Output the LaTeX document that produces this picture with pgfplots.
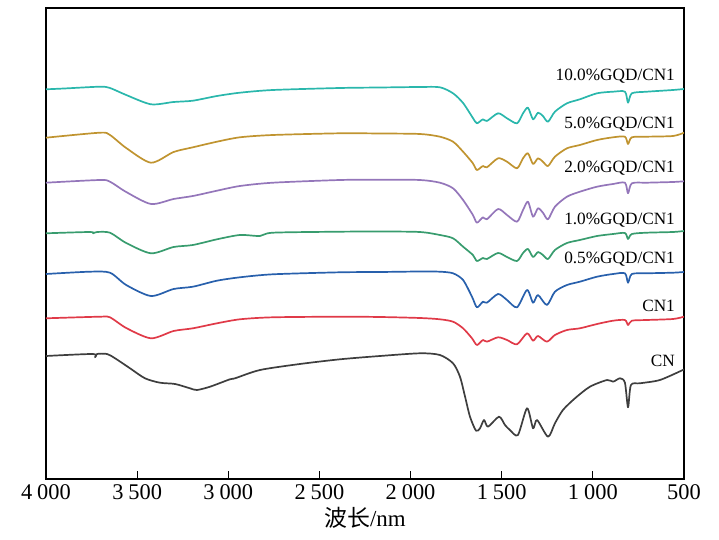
\documentclass[border=0pt]{standalone}
\usepackage{pgfplots}
\pgfplotsset{compat=1.18}
\usepackage{fontspec}
\setmainfont{Liberation Serif}
\newfontfamily\cjk{Noto Sans CJK SC}
\definecolor{cCyan}{RGB}{42,183,172}
\definecolor{cGold}{RGB}{192,148,48}
\definecolor{cPurple}{RGB}{148,118,186}
\definecolor{cGreen}{RGB}{56,156,110}
\definecolor{cBlue}{RGB}{40,96,172}
\definecolor{cRed}{RGB}{224,58,72}
\definecolor{cBlack}{RGB}{62,62,62}
\begin{document}
\begin{tikzpicture}
\useasboundingbox (-46bp,-61bp) rectangle (673bp,479bp);
\begin{axis}[
  scale only axis, width=638bp, height=471bp,
  xmin=500, xmax=4000, ymin=-479, ymax=-8,
  x dir=reverse,
  xtick={500,1000,...,4000},
  ytick=\empty,
  xtick pos=left, tick align=inside,
  major tick length=8bp,
  every tick/.style={black, line width=1bp},
  axis line style={line width=1.3bp},
  scaled x ticks=false,
  /pgf/number format/.cd, 1000 sep={\hspace{0.22em}}, assume math mode=true,
  /pgfplots/.cd,
  xticklabel style={font=\fontsize{22.5}{22.5}\selectfont, yshift=-2bp},
  every axis plot/.append style={line width=1.7bp, line join=round, smooth, tension=0.45},
]
\addplot[cCyan] coordinates {(4000,-89.3)(3900,-88.5)(3704,-86.7)(3649,-88)(3560,-95)(3424,-104.3)(3300,-102)(3194,-100.7)(3062,-96)(2936,-92.7)(2755,-90)(2387,-88)(2168,-87.5)(1948,-87)(1839,-87.3)(1767,-93.3)(1712,-103)(1658,-118)(1636,-123.3)(1603,-119.3)(1581,-121)(1520,-113.3)(1471,-118.3)(1416,-123.3)(1383,-113.3)(1356,-107.7)(1328,-119.3)(1301,-112.7)(1274,-116)(1246,-121.7)(1208,-111.7)(1142,-103.3)(1071,-99.3)(977,-93.3)(889,-91.7)(824,-91.7)(807,-102.7)(786,-93.3)(703,-91.7)(560,-90)(500,-89)};
\addplot[cGold] coordinates {(4000,-137.7)(3704,-132.7)(3649,-135)(3560,-148)(3424,-162.7)(3300,-152)(3194,-147.3)(3062,-141.7)(2936,-137.3)(2755,-135)(2387,-133.3)(2168,-133.5)(1948,-134)(1839,-136.7)(1767,-141.7)(1712,-151.7)(1658,-163.3)(1636,-170)(1603,-166)(1581,-167.3)(1520,-158.3)(1471,-161.7)(1416,-168.3)(1383,-158.3)(1356,-153.3)(1328,-164)(1301,-158.3)(1274,-161.7)(1246,-166)(1208,-156.7)(1142,-148.3)(1071,-145)(977,-140)(889,-137.3)(824,-136.7)(807,-144)(786,-137.3)(703,-136.7)(560,-136)(500,-132.7)};
\addplot[cPurple] coordinates {(4000,-182.7)(3704,-180)(3649,-181.7)(3560,-192)(3424,-204)(3300,-199)(3194,-196)(3062,-190.7)(2936,-186)(2755,-182.7)(2387,-180)(2168,-179.7)(1948,-180)(1839,-182.7)(1767,-188.3)(1712,-200)(1658,-215)(1636,-222.7)(1603,-217.3)(1581,-219.3)(1520,-209)(1471,-215)(1416,-221.7)(1383,-210)(1356,-201.7)(1328,-216.7)(1301,-208.3)(1274,-212.7)(1246,-219.3)(1208,-206.7)(1142,-196.7)(1071,-191.7)(977,-186.7)(889,-184)(824,-182.7)(807,-193.3)(786,-183.3)(703,-182.7)(560,-182)(500,-181.3)};
\addplot[cGreen] coordinates {(4000,-233.3)(3759,-232)(3742,-233.3)(3720,-232)(3649,-232.7)(3560,-243)(3424,-253.3)(3300,-247)(3194,-245)(3062,-239.3)(2936,-235)(2826,-236)(2755,-232.7)(2387,-231.7)(2168,-231.5)(1948,-232)(1839,-235)(1767,-238.3)(1712,-246.7)(1658,-255)(1636,-261)(1603,-258)(1581,-259)(1520,-253)(1471,-257)(1416,-261)(1383,-253)(1356,-249)(1328,-257)(1301,-252)(1274,-255)(1246,-259)(1208,-250)(1142,-243)(1071,-240)(977,-236)(889,-234)(824,-233)(807,-239)(786,-234)(703,-232.7)(560,-232)(500,-231)};
\addplot[cBlue] coordinates {(4000,-274)(3760,-271.7)(3649,-272.7)(3560,-285)(3424,-296)(3300,-289)(3194,-286.7)(3062,-280.7)(2936,-277.3)(2755,-274.3)(2387,-272.3)(2168,-272)(1948,-271.5)(1839,-271.7)(1767,-273.3)(1712,-280)(1663,-296.7)(1636,-307.3)(1603,-301.7)(1581,-302.7)(1520,-294)(1471,-300)(1416,-307.3)(1361,-290)(1328,-302.7)(1301,-295)(1252,-305)(1208,-291.7)(1142,-285)(1071,-281.7)(977,-276.7)(889,-274)(824,-273.3)(807,-282.7)(786,-274)(703,-273.3)(560,-272.7)(500,-272)};
\addplot[cRed] coordinates {(4000,-318.3)(3704,-316.7)(3649,-317.3)(3560,-328)(3424,-338.3)(3300,-331)(3194,-328.3)(3062,-323.3)(2936,-319.3)(2755,-317.3)(2387,-316.7)(2168,-317)(1948,-318)(1839,-319.3)(1767,-321.7)(1712,-328.3)(1663,-338.3)(1636,-345)(1603,-340)(1581,-341.7)(1520,-337.3)(1471,-340)(1416,-344.3)(1361,-333.3)(1328,-340.7)(1301,-336)(1252,-341.7)(1208,-335)(1142,-330)(1071,-328.3)(977,-324)(889,-320.7)(824,-320)(807,-325)(786,-320.7)(703,-320)(560,-319)(500,-316.7)};
\addplot[cBlack] coordinates {(4000,-356)(3742,-354)(3731,-357.3)(3720,-354)(3665,-354)(3621,-358.3)(3539,-368.3)(3457,-378.3)(3375,-382.7)(3292,-384)(3210,-388.3)(3172,-390)(3100,-386.7)(2991,-379.3)(2963,-378.3)(2826,-370)(2607,-364)(2387,-359.3)(2168,-356)(1948,-353.3)(1839,-355)(1767,-363.3)(1729,-376.7)(1701,-396.7)(1674,-416.7)(1641,-430.7)(1619,-428.3)(1597,-420)(1575,-426.7)(1515,-416.7)(1482,-425)(1455,-430)(1411,-435)(1361,-408.3)(1328,-428.3)(1306,-420)(1246,-436.7)(1208,-423.3)(1164,-410)(1098,-398.3)(1016,-386.7)(922,-380)(889,-381.7)(851,-378.3)(824,-382.7)(807,-407.3)(791,-385)(741,-383.3)(632,-380)(506,-370)(500,-369.5)};
\begin{scope}[every node/.style={anchor=base east, font=\fontsize{17.3}{17.3}\selectfont, inner sep=0pt}]
\node at (axis cs:549,-80.7) {10.0\%GQD/CN1};
\node at (axis cs:549,-128.3) {5.0\%GQD/CN1};
\node at (axis cs:549,-172.3) {2.0\%GQD/CN1};
\node at (axis cs:549,-225) {1.0\%GQD/CN1};
\node at (axis cs:549,-264) {0.5\%GQD/CN1};
\node at (axis cs:549,-311.7) {CN1};
\node at (axis cs:549,-366.7) {CN};
\end{scope}
\end{axis}
\node[anchor=base, font=\fontsize{23}{23}\selectfont, inner sep=0pt] at (319bp,-47.5bp) {{\cjk 波长}/nm};
\end{tikzpicture}
\end{document}
